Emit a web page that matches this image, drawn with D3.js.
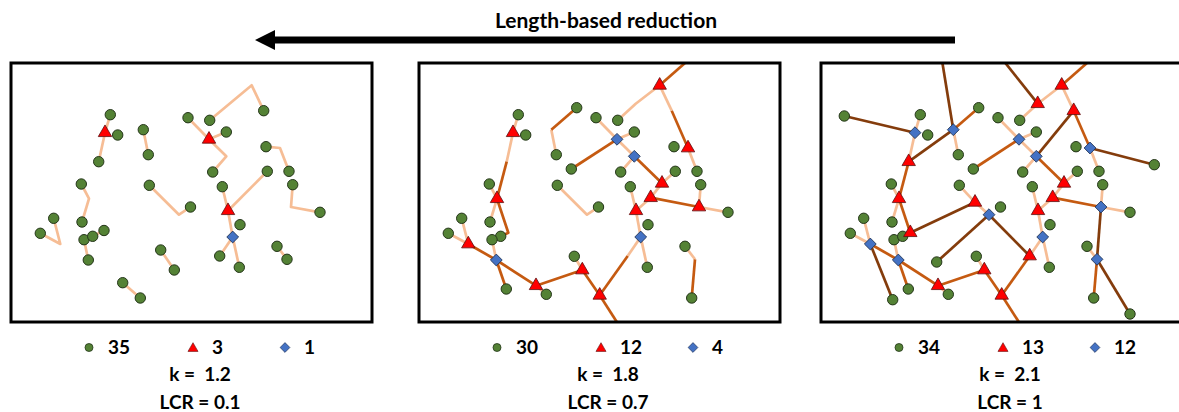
<!DOCTYPE html>
<html>
<head>
<meta charset="utf-8">
<script src="https://cdn.jsdelivr.net/npm/d3@7"></script>
<style>
  body { margin: 0; background: #fff; }
  svg { display: block; font-family: Lato, "Open Sans", sans-serif; font-weight: 700; }
  .pre { white-space: pre; }
</style>
</head>
<body>
<svg id="chart" width="1179" height="412"></svg>
<script>
// node positions, in px inside a panel (same layout in all three panels)
var pos = {
  C1: [24.3, 54], C2: [100.3, 52.7], C3: [107.7, 73], C4: [158.7, 45.7],
  C5: [138.3, 92.7], C6: [153.3, 107], C7: [71.3, 122], C8: [139.3, 123.3],
  C9: [43.7, 156.3], C10: [72, 160], C11: [30.3, 171.3], C12: [74, 177.7],
  C13: [82.7, 174.3], C14: [116.7, 200], C15: [156.3, 194.3], C16: [128.3, 232.3],
  C17: [88.3, 227], C18: [72.7, 237.7], C19: [178, 55.7], C20: [199.7, 58.3],
  C21: [216.3, 70], C22: [256, 84.7], C23: [334.3, 102.7], C24: [202.7, 110],
  C25: [257.3, 109.3], C26: [279, 109.3], C27: [212.3, 124.7], C28: [282.7, 122.7],
  C29: [310, 150.3], C30: [180.5, 145], C31: [230, 162.7], C32: [267, 184.3],
  C33: [229.3, 205.3], C34: [273.7, 236], C35: [310, 252],
  T1: [88.7, 99.7], T2: [79, 136.7], T3: [155, 140.3], T4: [90.3, 170.7],
  T5: [164.3, 208], T6: [118, 223.7], T7: [181.7, 233.3], T8: [217.7, 41.7],
  T9: [241.7, 23.3], T10: [253.7, 48.7], T11: [244, 121.3], T12: [232.7, 135.7],
  T13: [218, 148.7], T14: [209.7, 194],
  D1: [95, 70.7], D2: [133.3, 67.7], D3: [169, 152.7], D4: [50.3, 182],
  D5: [78.3, 198], D6: [199, 77.3], D7: [216.3, 94.3], D8: [270, 86],
  D9: [281, 145], D10: [222.7, 175], D11: [277, 197.3],
  // outside the frame
  O1: [119, -20], O2: [168.7, -20], O3: [290.8, -20], O4: [211.7, 280]
};

// a few nodes sit slightly elsewhere in the first panel
var pos1 = { C15: [150.7, 188], T6: [112.7, 220.7], C16: [130.3, 236], T4: [94, 168.5] };

var circles1 = ['C2','C3','T1','D2','C5','C19','C7','C10','C9','C11','C12','D5','C13','T4','C8',
  'C30','C15','T5','T6','C16','C20','T10','C21','C24','C22','C26','C28','C29','C25','C27','C31',
  'T14','C33','C32','D11'];
var triangles1 = ['D1','D6','T13'];
var diamonds1 = ['D10'];
var edges1 = [
  ['l', ['C2','D1','T1']], ['l', ['D2','C5']], ['l', ['C7','T2','C10']], ['l', ['C9','D4','C11']],
  ['l', ['C12','D5']], ['l', ['C13','T4']], ['l', ['C8','D3','C30']], ['l', ['C15','T5']],
  ['l', ['T6','C16']], ['l', ['C19','D6']], ['l', ['D6','C21']], ['l', ['D6','D7','C24']],
  ['l', ['C20','T9','T10']], ['l', ['C22','D8','C26']], ['l', ['C28','D9','C29']],
  ['l', ['C25','T13']], ['l', ['C27','T13']], ['l', ['T13','D10']], ['l', ['D10','T14']],
  ['l', ['D10','C33']], ['l', ['C32','D11']]
];

var circles2 = ['C2','C3','C4','C19','C5','C6','C7','C8','C30','C9','C11','C10','C13','C12','C17',
  'C16','C15','C20','C22','C26','C28','C29','C25','C21','C24','C27','C31','C33','C32','C34'];
var triangles2 = ['D1','T2','D4','T6','T5','T7','T9','D8','D9','T11','T12','T13'];
var diamonds2 = ['D5','D6','D7','D10'];
var edges2 = [
  ['l', ['C2','D1','T1']], ['m', ['T1','T2']], ['l', ['C7','T2']], ['l', ['T2','C10']],
  ['m', ['T2','T4','C13']], ['m', ['C4','D2']], ['l', ['D2','C5']], ['m', ['C6','D6']],
  ['l', ['C8','D3','C30']], ['l', ['C9','D4']], ['l', ['C11','D4']], ['m', ['D4','D5']],
  ['l', ['C12','D5']], ['m', ['D5','C17']], ['m', ['D5','T6']], ['m', ['T6','T5']],
  ['m', ['T5','T7']], ['m', ['T7','O4']], ['l', ['T6','C16']], ['l', ['C15','T5']],
  ['l', ['T9','T8','C20']], ['m', ['T9','O3']], ['l', ['T9','T10']], ['m', ['T10','D8']],
  ['l', ['D8','C26']], ['l', ['C28','D9']], ['l', ['D9','C29']], ['m', ['T12','D9']],
  ['l', ['C25','T11']], ['l', ['T11','T12']], ['m', ['D7','T11']], ['l', ['D6','D7']],
  ['l', ['C21','D6']], ['l', ['C19','D6']], ['l', ['D7','C24']], ['l', ['C27','T13']],
  ['l', ['T12','T13']], ['l', ['T13','D10']], ['l', ['D10','C33']], ['l', ['D10','T14']],
  ['m', ['T14','T7']], ['l', ['C32','D11']], ['m', ['D11','C34']]
];

var circles3 = Object.keys(pos).filter(function(k) { return k[0] == 'C'; });
var triangles3 = Object.keys(pos).filter(function(k) { return k[0] == 'T'; });
var diamonds3 = Object.keys(pos).filter(function(k) { return k[0] == 'D'; });
var edges3 = [
  ['d', ['C1','D1']], ['d', ['T1','D2']], ['d', ['D2','O1']], ['d', ['T4','T3']],
  ['d', ['D3','C14']], ['d', ['D3','T14']], ['d', ['D4','C18']], ['d', ['O2','T8']],
  ['d', ['T10','D7']], ['d', ['D8','C23']], ['d', ['D9','D11']], ['d', ['D11','C35']],
  ['m', ['D2','C4']], ['m', ['T1','T2']], ['m', ['T2','T4']], ['m', ['C6','D6']],
  ['m', ['D4','D5']], ['m', ['D5','C17']], ['m', ['D5','T6']], ['m', ['T6','T5']],
  ['m', ['T5','T7']], ['m', ['T7','O4']], ['m', ['T9','O3']], ['m', ['T10','D8']],
  ['m', ['D7','T11']], ['m', ['T12','D9']], ['m', ['D11','C34']], ['m', ['T14','T7']],
  ['l', ['C2','D1']], ['l', ['D1','T1']], ['l', ['D2','C5']], ['l', ['C7','T2']],
  ['l', ['T2','C10']], ['l', ['C8','T3']], ['l', ['T3','D3']], ['l', ['C9','D4']],
  ['l', ['C11','D4']], ['l', ['C12','D5']], ['l', ['T6','C16']], ['l', ['C15','T5']],
  ['l', ['T8','T9']], ['l', ['T9','T10']], ['l', ['D8','C26']], ['l', ['C19','D6']],
  ['l', ['C20','T8']], ['l', ['D6','C21']], ['l', ['D6','D7']], ['l', ['D7','C24']],
  ['l', ['T11','C25']], ['l', ['T11','T12']], ['l', ['T12','T13']], ['l', ['C28','D9']],
  ['l', ['D9','C29']], ['l', ['C32','D11']], ['l', ['C27','T13']], ['l', ['T13','D10']],
  ['l', ['D10','C33']], ['l', ['D10','T14']]
];

var legendCounts = [[35, 3, 1], [30, 12, 4], [34, 13, 12]];
var kValues = ['1.2', '1.8', '2.1'];
var lcrValues = ['0.1', '0.7', '1'];
var title = 'Length-based reduction';

var panels = [
  { left: 10,  circles: circles1, triangles: triangles1, diamonds: diamonds1, edges: edges1, moved: pos1 },
  { left: 418, circles: circles2, triangles: triangles2, diamonds: diamonds2, edges: edges2, moved: {} },
  { left: 820, circles: circles3, triangles: triangles3, diamonds: diamonds3, edges: edges3, moved: {} }
];

var edgeColor = { l: '#f4b183', m: '#c55a11', d: '#843c0c' };
var fill = { circle: '#548235', triangle: '#ff0000', diamond: '#4472c4' };
var stroke = { circle: '#25361a', triangle: '#5a1010', diamond: '#1f3050' };

var svg = d3.select('#chart');

// title + arrow
svg.append('text')
    .attr('x', 606).attr('y', 28)
    .attr('text-anchor', 'middle')
    .style('font-size', '21px')
    .text(title);

var arrowX = d3.scaleLinear().domain([0, 1]).range([255, 955]);
svg.append('path')
    .attr('fill', '#000')
    .attr('d', 'M' + arrowX(0) + ',40 L' + (arrowX(0) + 20) + ',30 L' + (arrowX(0) + 20) + ',36.5 L' +
      arrowX(1) + ',36.5 L' + arrowX(1) + ',43.5 L' + (arrowX(0) + 20) + ',43.5 L' + (arrowX(0) + 20) + ',50 Z');

var line = d3.line().curve(d3.curveLinear);
var tri = d3.symbol().type(d3.symbolTriangle).size(78);
var dia = d3.symbol().type(d3.symbolSquare).size(70);

panels.forEach(function(p, pi) {
  var x = d3.scaleLinear().domain([0, 362]).range([p.left, p.left + 362]);
  var y = d3.scaleLinear().domain([0, 260]).range([62, 322]);
  function at(id) { return p.moved[id] || pos[id]; }

  var clipId = 'clip' + pi;
  svg.append('clipPath').attr('id', clipId)
    .append('rect')
      .attr('x', x(1)).attr('y', y(1))
      .attr('width', x(362) - x(1)).attr('height', y(260) - y(1));

  var g = svg.append('g').attr('clip-path', 'url(#' + clipId + ')');

  // light first, dark on top
  var order = { l: 0, m: 1, d: 2 };
  var edges = p.edges.slice().sort(function(a, b) { return order[a[0]] - order[b[0]]; });

  g.selectAll('path.edge')
    .data(edges)
    .enter().append('path')
      .attr('class', 'edge')
      .attr('fill', 'none')
      .attr('stroke', function(d) { return edgeColor[d[0]]; })
      .attr('stroke-opacity', function(d) { return d[0] == 'l' ? 0.85 : 1; })
      .attr('stroke-width', 2.7)
      .attr('stroke-linejoin', 'round')
      .attr('d', function(d) {
        return line(d[1].map(function(id) { return [x(at(id)[0]), y(at(id)[1])]; }));
      });

  g.selectAll('circle.node')
    .data(p.circles)
    .enter().append('circle')
      .attr('class', 'node')
      .attr('cx', function(d) { return x(at(d)[0]); })
      .attr('cy', function(d) { return y(at(d)[1]); })
      .attr('r', 5.2)
      .attr('fill', fill.circle)
      .attr('stroke', stroke.circle)
      .attr('stroke-width', 1);

  g.selectAll('path.tri')
    .data(p.triangles)
    .enter().append('path')
      .attr('class', 'tri')
      .attr('transform', function(d) { return 'translate(' + x(at(d)[0]) + ',' + y(at(d)[1]) + ')'; })
      .attr('d', tri)
      .attr('fill', fill.triangle)
      .attr('stroke', stroke.triangle)
      .attr('stroke-width', 0.8);

  g.selectAll('path.dia')
    .data(p.diamonds)
    .enter().append('path')
      .attr('class', 'dia')
      .attr('transform', function(d) { return 'translate(' + x(at(d)[0]) + ',' + y(at(d)[1]) + ') rotate(45)'; })
      .attr('d', dia)
      .attr('fill', fill.diamond)
      .attr('stroke', stroke.diamond)
      .attr('stroke-width', 0.8);

  // frame
  svg.append('rect')
      .attr('x', x(1)).attr('y', y(1))
      .attr('width', x(362) - x(1)).attr('height', y(260) - y(1))
      .attr('fill', 'none')
      .attr('stroke', '#000')
      .attr('stroke-width', 3);

  // legend
  var counts = legendCounts[pi];
  var lg = svg.append('g').style('font-size', '19px');
  var keys = [
    { dx: 79, shape: 'circle', n: counts[0] },
    { dx: 183, shape: 'triangle', n: counts[1] },
    { dx: 275, shape: 'diamond', n: counts[2] }
  ];
  keys.forEach(function(k) {
    var cx = x(k.dx), cy = 347.5;
    if (k.shape == 'circle') {
      lg.append('circle').attr('cx', cx).attr('cy', cy).attr('r', 4)
        .attr('fill', fill.circle).attr('stroke', stroke.circle).attr('stroke-width', 0.8);
    } else if (k.shape == 'triangle') {
      lg.append('path').attr('transform', 'translate(' + cx + ',' + (cy + 1) + ')')
        .attr('d', d3.symbol().type(d3.symbolTriangle).size(44))
        .attr('fill', fill.triangle).attr('stroke', stroke.triangle).attr('stroke-width', 0.6);
    } else {
      lg.append('path').attr('transform', 'translate(' + cx + ',' + cy + ') rotate(45)')
        .attr('d', d3.symbol().type(d3.symbolSquare).size(48))
        .attr('fill', fill.diamond).attr('stroke', stroke.diamond).attr('stroke-width', 0.6);
    }
    lg.append('text').attr('x', cx + 19).attr('y', 353.5).text(k.n);
  });

  lg.append('text').attr('class', 'pre')
      .attr('x', x(190)).attr('y', 381)
      .attr('text-anchor', 'middle')
      .text('k =  ' + kValues[pi]);
  lg.append('text')
      .attr('x', x(190)).attr('y', 408.5)
      .attr('text-anchor', 'middle')
      .text('LCR = ' + lcrValues[pi]);
});
</script>
</body>
</html>
